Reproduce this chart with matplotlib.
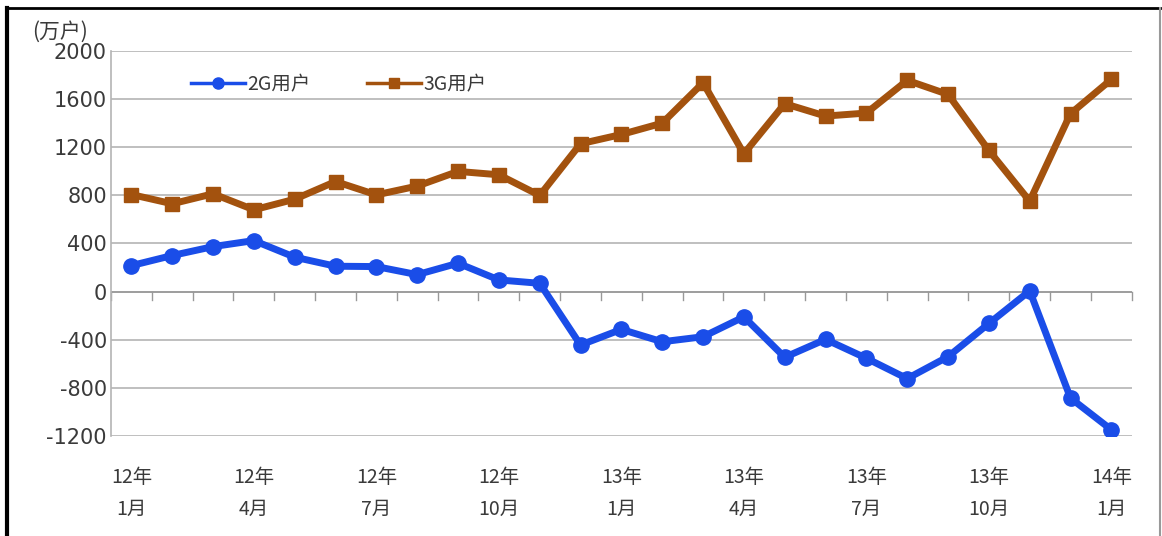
import numpy as np
import matplotlib
matplotlib.use('Agg')
import matplotlib.pyplot as plt
from matplotlib.lines import Line2D

plt.rcParams['font.family'] = ['Noto Sans CJK SC', 'DejaVu Sans']

# data (万户), monthly from 2012-01 to 2014-01
months = ['12年\n1月', '', '', '12年\n4月', '', '', '12年\n7月', '', '', '12年\n10月', '', '',
          '13年\n1月', '', '', '13年\n4月', '', '', '13年\n7月', '', '', '13年\n10月', '', '',
          '14年\n1月']
users_2g = [216, 300, 374, 424, 286, 211, 208, 141, 236, 97, 69, -444,
            -314, -417, -375, -210, -546, -397, -554, -723, -541, -265, 6, -885,
            -1148]
users_3g = [807, 730, 813, 680, 768, 915, 804, 877, 999, 971, 799, 1229,
            1306, 1400, 1736, 1146, 1562, 1459, 1484, 1756, 1639, 1173, 752, 1479,
            1764]
yticks = [-1200, -800, -400, 0, 400, 800, 1200, 1600, 2000]

blue = '#1A4DE8'
brown = '#A3520E'
grid = '#B4B4B4'
txt = '#3A3A3A'

fig = plt.figure(figsize=(11.62, 5.36), dpi=100)
ax = fig.add_axes([0.0955, 0.1866, 0.8785, 0.7183])

x = np.arange(len(months))
ax.plot(x, users_2g, color=blue, lw=5, marker='o', ms=11, zorder=3)
ax.plot(x, users_3g, color=brown, lw=5, marker='s', ms=10, zorder=3)

ax.set_xlim(-0.5, len(months) - 0.5)
ax.set_ylim(-1200, 2000)
ax.set_yticks(yticks)
ax.set_yticklabels([str(v) for v in yticks], fontsize=15, color=txt, family='DejaVu Sans')
for v in yticks:
    ax.axhline(v, color=grid, lw=1.2, zorder=1)

# category axis crosses at 0, labels stay at the bottom
ax.axhline(0, color='#999999', lw=1.2, zorder=2)
for b in np.arange(-0.5, len(months), 1.0):
    ax.plot([b, b], [0, -70], color='#999999', lw=1.0, zorder=2, clip_on=False)
ax.set_xticks(x)
ax.set_xticklabels(months, fontsize=14, color=txt, linespacing=1.7)
ax.tick_params(axis='x', length=0, pad=22)
ax.tick_params(axis='y', length=0, pad=3)

for s in ['top', 'right', 'bottom']:
    ax.spines[s].set_visible(False)
ax.spines['left'].set_color(grid)
ax.spines['left'].set_linewidth(1.2)

handles = [Line2D([], [], color=blue, lw=2.5, marker='o', ms=8),
           Line2D([], [], color=brown, lw=2.5, marker='s', ms=7.5)]
ax.legend(handles, ['2G用户', '3G用户'], loc='upper left', bbox_to_anchor=(0.061, 0.985),
          ncol=2, frameon=False, fontsize=14, handlelength=2.8, columnspacing=2.9,
          handletextpad=0.1, labelcolor=txt)

fig.text(0.028, 0.921, '(万户)', fontsize=15, color=txt, va='bottom')

# frame around the picture
fig.add_artist(Line2D([0.006, 0.006], [0, 0.986], color='black', lw=3, transform=fig.transFigure))
fig.add_artist(Line2D([0.006, 0.998], [0.986, 0.986], color='black', lw=2, transform=fig.transFigure))
fig.add_artist(Line2D([0.998, 0.998], [0, 0.986], color='#999999', lw=1.5, transform=fig.transFigure))

fig.savefig('out.png', dpi=100)
